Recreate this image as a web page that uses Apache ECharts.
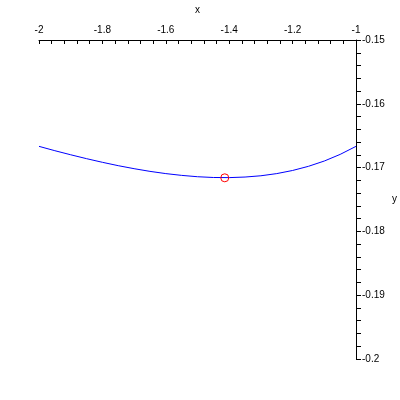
<!DOCTYPE html>
<html><head><meta charset="utf-8">
<script src="https://cdn.jsdelivr.net/npm/echarts@6/dist/echarts.min.js"></script>
<style>html,body{margin:0;padding:0;background:#fff}#c{width:400px;height:400px}</style>
</head><body><div id="c"></div>
<script>
var xValues = [-2, -1.95, -1.9, -1.85, -1.8, -1.75, -1.7, -1.65, -1.6, -1.55, -1.5, -1.45, -1.4, -1.35, -1.3, -1.25, -1.2, -1.15, -1.1, -1.05, -1];
var yValues = [-0.16667, -0.16735, -0.16799, -0.16860, -0.16917, -0.16970, -0.17017, -0.17059, -0.17094, -0.17122, -0.17143, -0.17155, -0.17157, -0.17148, -0.17128, -0.17094, -0.17045, -0.16980, -0.16897, -0.16793, -0.16667];
var markerPoint = [-1.414, -0.1716];
var xLabelTicks = [-2, -1.8, -1.6, -1.4, -1.2, -1];
var yLabelTicks = [-0.2, -0.19, -0.18, -0.17, -0.16, -0.15];

function near(v, list, eps) {
  for (var i = 0; i < list.length; i++) if (Math.abs(v - list[i]) < eps) return list[i];
  return null;
}
var font = 'Liberation Sans, Arial, sans-serif';
var chart = echarts.init(document.getElementById('c'), null, {renderer: 'canvas'});
chart.setOption({
  animation: false,
  backgroundColor: '#fff',
  grid: {left: 39, top: 39, width: 320, height: 320, containLabel: false},
  xAxis: {
    type: 'value', position: 'top', min: -2, max: -1, interval: 0.04,
    name: 'x', nameLocation: 'middle', nameGap: 25,
    nameTextStyle: {color: '#000', fontSize: 10, fontFamily: font},
    axisLine: {onZero: false, lineStyle: {color: '#000', width: 1}},
    axisTick: {inside: true, length: 4, lineStyle: {color: '#000'}},
    axisLabel: {margin: 5, color: '#000', fontSize: 10, fontFamily: font,
      showMinLabel: true, showMaxLabel: true,
      formatter: function (v) { var n = near(v, xLabelTicks, 1e-6); return n === null ? '' : String(n); }},
    splitLine: {show: false}
  },
  yAxis: {
    type: 'value', position: 'right', min: -0.2, max: -0.15, interval: 0.002,
    name: 'y', nameLocation: 'middle', nameGap: 36, nameRotate: 0,
    nameTextStyle: {color: '#000', fontSize: 10, fontFamily: font},
    axisLine: {onZero: false, lineStyle: {color: '#000', width: 1}},
    axisTick: {inside: false, length: 5, lineStyle: {color: '#000'}},
    axisLabel: {margin: 6, color: '#000', fontSize: 10, fontFamily: font,
      showMinLabel: true, showMaxLabel: true,
      formatter: function (v) { var n = near(v, yLabelTicks, 1e-7); return n === null ? '' : String(n); }},
    splitLine: {show: false}
  },
  series: [
    {type: 'line', data: xValues.map(function (x, i) { return [x, yValues[i]]; }),
     showSymbol: false, smooth: false, lineStyle: {color: '#0000ff', width: 1}, silent: true, z: 2},
    {type: 'scatter', data: [markerPoint], symbol: 'circle', symbolSize: 8, z: 3,
     itemStyle: {color: 'rgba(0,0,0,0)', borderColor: '#ff0000', borderWidth: 1, opacity: 1}, silent: true}
  ]
});
</script></body></html>
